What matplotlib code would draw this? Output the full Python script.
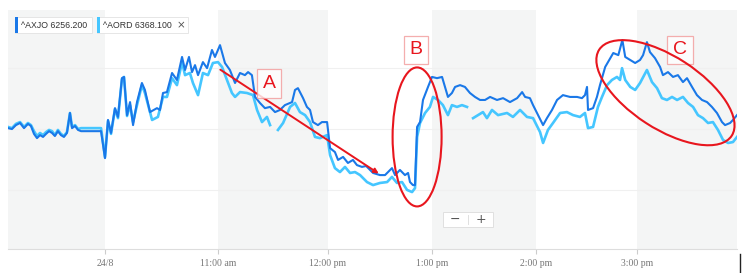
import numpy as np
import matplotlib
matplotlib.use("Agg")
import matplotlib.pyplot as plt
import matplotlib.patches as mpatches
import matplotlib.transforms as mtransforms
from matplotlib.lines import Line2D

# ------ Data ------#
# time in minutes after 10:00 (24/8 open), negative = previous session tail
axjo_t = [-51.5, -49.4, -47.3, -45.1, -43.0, -40.9, -39.3, -37.7, -36.1, -34.5,
          -32.9, -31.3, -29.7, -28.1, -26.6, -25.0, -23.4, -21.8, -20.2, -18.6,
          -17.5, -15.9, -14.3, -12.7, -11.7, -2.1,
          0.0, 1.6, 3.2, 5.3, 6.9, 9.0, 10.1, 11.7, 13.3, 14.9, 17.0, 19.6, 21.2,
          23.9, 27.6, 29.2, 30.8, 32.9, 35.6, 38.2, 40.9, 42.5, 44.6, 46.2, 47.8,
          49.4, 52.0, 54.2, 56.8, 58.4, 61.1, 63.8, 66.5, 69.3, 72.0, 74.7, 76.4,
          78.5, 80.2, 82.9, 85.6, 88.4, 91.1, 93.8, 96.5, 100.4, 102.0, 103.6,
          106.4, 108.5, 110.2, 111.8, 114.5, 116.7, 119.5, 121.2, 124.0, 125.8,
          128.7, 131.5, 134.4, 136.7, 139.6, 142.0, 146.0, 150.0, 152.9, 156.9,
          158.7, 161.5, 164.4, 166.2, 167.3, 169.0, 170.2, 171.4, 173.1, 174.8,
          177.7, 180.0, 182.9, 185.8, 187.5, 189.2, 191.5, 193.3, 196.2, 199.0,
          201.9, 204.8, 207.7, 210.6, 213.5, 217.5, 221.0, 225.0, 229.1, 232.0,
          233.7, 236.5, 238.3, 241.2, 244.2, 246.5, 249.5, 252.5, 256.0, 260.2,
          264.4, 267.3, 269.1, 270.3, 270.9, 273.9, 276.2, 278.0, 281.1, 284.1,
          285.9, 288.9, 291.3, 293.0, 296.0, 298.9, 301.8, 303.6, 305.9, 307.7,
          310.7, 313.7, 315.4, 318.4, 321.4, 324.3, 327.3, 329.7, 332.7, 335.6,
          338.6, 341.6, 344.5, 347.5, 350.5, 352.3, 355.3, 357.0, 359.4]
axjo_v = [6250.3, 6250.0, 6251.3, 6252.0, 6250.3, 6251.7, 6251.0, 6248.4, 6247.0, 6248.0,
          6247.4, 6248.4, 6249.3, 6248.7, 6247.7, 6249.3, 6248.0, 6247.4, 6248.7, 6255.3,
          6250.3, 6251.0, 6249.7, 6249.3, 6249.3, 6249.3,
          6240.4, 6253.0, 6248.7, 6256.9, 6254.0, 6266.8, 6267.2, 6254.6, 6258.9, 6251.3,
          6258.9, 6265.2, 6262.9, 6255.6, 6256.9, 6256.3, 6261.9, 6262.2, 6268.5, 6266.2,
          6273.8, 6269.5, 6273.8, 6268.8, 6271.1, 6267.8, 6272.1, 6270.1, 6276.1, 6273.8,
          6277.7, 6271.8, 6269.5, 6265.2, 6268.5, 6267.8, 6268.8, 6267.8, 6260.6, 6258.6,
          6256.9, 6257.3, 6255.6, 6256.3, 6257.9, 6258.9, 6262.9, 6263.5, 6260.2, 6257.3,
          6256.3, 6252.3, 6251.3, 6252.3, 6252.3, 6243.7, 6242.4, 6239.8, 6240.8, 6238.8,
          6239.8, 6238.1, 6237.5, 6237.8, 6235.5, 6234.8, 6234.8, 6237.1, 6234.8, 6236.5,
          6234.8, 6235.5, 6232.5, 6231.5, 6231.5, 6250.7, 6252.3, 6259.6, 6263.9, 6267.2,
          6266.8, 6267.2, 6263.9, 6260.6, 6261.9, 6263.9, 6264.5, 6263.9, 6261.9, 6260.6,
          6259.6, 6259.6, 6260.6, 6259.6, 6260.2, 6258.9, 6260.2, 6262.2, 6260.6, 6260.2,
          6257.9, 6254.6, 6251.3, 6253.6, 6256.3, 6259.6, 6261.2, 6260.6, 6260.6, 6260.2,
          6261.2, 6263.9, 6256.3, 6256.9, 6260.6, 6264.5, 6270.5, 6273.4, 6275.1, 6274.4,
          6279.4, 6273.8, 6272.8, 6271.8, 6272.8, 6274.4, 6278.7, 6275.4, 6273.4, 6270.5,
          6267.8, 6268.8, 6267.2, 6267.8, 6265.5, 6266.8, 6263.9, 6261.2, 6259.6, 6258.9,
          6257.3, 6255.3, 6252.3, 6251.3, 6252.0, 6253.0, 6254.6]

nan = np.nan
aord_t = [-51.5, -49.4, -47.3, -45.1, -43.0, -40.9, -39.3, -37.7, -36.1, -34.5,
          -32.9, -31.3, -29.7, -28.1, -26.6, -25.0, -23.4, -21.8, -20.2, -18.6,
          -17.5, -15.9, -14.3, -12.7, -11.7, -2.1,
          0.0, 1.6, 3.2, 5.3, 6.9, 9.0, 10.1, 11.7, 13.3, 14.9, 17.0, 19.6, 21.2,
          25.0, 28.1, 30.8, 32.9, 35.6, 38.2, 40.9, 42.5, 45.1, 46.7, 49.4, 52.0,
          54.7, 57.3, 60.0, 62.2, 64.9, 67.6, 69.3, 72.0, 75.8, 79.1, 81.3, 84.0,
          86.7, 88.4, 90.5, 92.7, 95.5, 99.3, 102.0, 104.7, 107.5, 110.2, 112.9,
          115.6, 119.5, 121.2, 124.0, 126.9, 129.8, 132.7, 135.6, 138.5, 142.5,
          146.0, 150.0, 154.1, 156.9, 159.8, 162.7, 165.6, 168.5, 170.2, 171.4,
          173.1, 176.0, 178.8, 180.6, 183.5, 186.3, 189.2, 191.5, 194.4, 197.3,
          200.2, 202.0, 203.7, 206.5, 209.4, 211.7, 214.6, 218.1, 223.3, 226.7,
          230.8, 234.8, 238.3, 242.4, 244.2, 247.1, 250.1, 254.3, 258.4, 262.0,
          266.1, 269.1, 270.9, 273.9, 276.8, 279.2, 282.2, 285.1, 288.1, 289.9,
          291.1, 293.0, 296.0, 298.9, 301.8, 305.9, 308.9, 311.9, 314.8, 317.8,
          320.8, 323.8, 327.3, 330.3, 333.3, 336.2, 339.2, 342.2, 345.1, 348.1,
          351.1, 354.1, 357.0, 359.4]
aord_v = [6250.7, 6250.3, 6251.7, 6252.3, 6250.7, 6252.0, 6251.3, 6249.3, 6247.7, 6248.7,
          6248.0, 6249.0, 6249.7, 6249.3, 6248.0, 6249.7, 6248.4, 6247.7, 6249.0, 6255.3,
          6250.7, 6251.3, 6250.0, 6250.3, 6250.3, 6250.3,
          6240.7, 6252.7, 6248.4, 6256.6, 6253.6, 6266.5, 6267.2, 6254.3, 6257.9, 6252.3,
          6257.9, 6264.5, 6261.9, 6253.0, 6254.0, 6260.6, 6260.6, 6266.8, 6264.5, 6272.1,
          6267.8, 6268.5, 6265.2, 6261.2, 6268.5, 6267.8, 6271.8, 6272.1, 6270.5, 6266.2,
          6261.9, 6260.6, 6262.2, 6261.9, 6261.2, 6256.3, 6252.3, 6254.0, 6251.3, nan,
          6249.7, 6252.0, 6257.3, 6258.6, 6255.6, 6254.6, 6252.3, 6247.4, 6247.0, 6248.0,
          6241.4, 6237.1, 6235.8, 6237.5, 6235.5, 6235.8, 6234.8, 6232.5, 6231.5, 6232.2,
          6232.5, 6234.2, 6232.2, 6232.5, 6229.9, 6229.2, 6230.5, 6247.4, 6252.0, 6255.3,
          6257.3, 6260.6, 6259.6, 6257.9, 6254.6, 6257.9, 6257.3, 6257.9, 6257.3, nan,
          6253.6, 6254.6, 6255.6, 6253.6, 6256.3, 6254.6, 6255.3, 6254.0, 6256.3, 6254.0,
          6253.6, 6249.0, 6245.4, 6249.7, 6252.0, 6255.3, 6255.6, 6254.6, 6254.0, 6255.3,
          6250.3, 6250.7, 6257.3, 6260.6, 6264.5, 6266.2, 6267.2, 6266.2, 6270.1, 6266.2,
          6263.9, 6262.9, 6265.2, 6269.5, 6265.5, 6263.5, 6260.2, 6259.6, 6260.6, 6259.6,
          6260.6, 6258.6, 6257.3, 6254.6, 6253.6, 6252.0, 6252.3, 6249.7, 6246.4, 6245.4,
          6245.7, 6247.4]

tick_min = [0, 60, 120, 180, 240, 300]
tick_labels = ['24/8', '11:00 am', '12:00 pm', '1:00 pm', '2:00 pm', '3:00 pm']
legend_labels = ['^AXJO 6256.200', '^AORD 6368.100']
#-------------------------------------#

c_axjo = '#1a78e8'
c_aord = '#45c6ff'
red = '#e8161e'
W, H = 754, 273

# the source chart spaces its hours unevenly, so map minutes piecewise
knot_min = np.array([-60, 0, 60, 120, 180, 240, 300, 360])
knot_px = np.array([-8, 105, 218, 328, 432, 536, 637, 738])
fwd = lambda m: np.interp(m, knot_min, knot_px)
inv = lambda p: np.interp(p, knot_px, knot_min)

def fx(x):
    return x / W

def fy(y):
    return 1 - y / H

fig = plt.figure(figsize=(W / 100, H / 100), dpi=100)
ax = fig.add_axes([fx(8), fy(249), (737 - 8) / W, (249 - 10) / H])
ax.set_xscale('function', functions=(fwd, inv))
ax.set_xlim(-51.5, 359.4)
ax.set_ylim(6210.4, 6289.3)

# alternating hour bands
band_edges = [-51.5, 0, 60, 120, 180, 240, 300, 359.4]
for i in range(len(band_edges) - 1):
    if i % 2 == 0:
        ax.axvspan(band_edges[i], band_edges[i + 1], color='#f4f5f5', lw=0, zorder=0)

ax.plot(axjo_t, axjo_v, color=c_axjo, lw=1.5, zorder=3)
ax.plot(aord_t, aord_v, color=c_aord, lw=1.9, zorder=2)

ax.set_yticks([6230, 6250, 6270])
ax.set_yticklabels([])
ax.tick_params(axis='y', length=0)
ax.grid(axis='y', color='#f0f0f0', lw=0.8)
ax.set_axisbelow(True)
ax.set_xticks(tick_min)
ax.set_xticks([], minor=True)
ax.set_xticklabels(tick_labels, fontsize=7, family='Liberation Serif', color='#777777')
ax.tick_params(axis='x', length=3.5, color='#cccccc', pad=4)
for s in ['top', 'left', 'right']:
    ax.spines[s].set_visible(False)
ax.spines['bottom'].set_color('#dddddd')

# annotations
ax.annotate('', xy=(150.6, 6234.8), xytext=(60.0, 6270.1),
            arrowprops=dict(arrowstyle='-|>', color=red, lw=1.4, mutation_scale=7),
            zorder=5)
box = dict(boxstyle='square,pad=0.3', fc='white', ec='#f29a9a', lw=0.9, alpha=0.8)
for lab, m, v in [('A', 87.8, 6265.0), ('B', 170.8, 6276.1), ('C', 325.5, 6276.1)]:
    ax.text(m, v, lab, color=red, fontsize=14, family='Liberation Sans',
            ha='center', va='center', bbox=box, zorder=6)

for (m, v), w, h, ang in [((171.4, 6247.4), 0.49, 1.39, 0),
                          ((316.9, 6262.0), 1.58, 0.72, -33)]:
    tr = fig.dpi_scale_trans + mtransforms.ScaledTranslation(m, v, ax.transData)
    ax.add_patch(mpatches.Ellipse((0, 0), w, h, angle=ang, transform=tr,
                                  fill=False, ec=red, lw=1.5, zorder=6))

# legend chips
for (x0, x1), col, lab in zip([(15, 92), (97, 188)], [c_axjo, c_aord], legend_labels):
    fig.add_artist(mpatches.Rectangle((fx(x0), fy(33)), (x1 - x0) / W, 16 / H,
                                      transform=fig.transFigure, fc='white',
                                      ec='#e2e2e2', lw=0.6))
    fig.add_artist(mpatches.Rectangle((fx(x0), fy(33)), 2.5 / W, 16 / H,
                                      transform=fig.transFigure, fc=col, lw=0))
    fig.text(fx(x0 + 6), fy(25), lab, fontsize=6.3, family='Liberation Sans',
             color='#333333', va='center')
fig.text(fx(181), fy(25), '\u00d7', fontsize=7.5, color='#555555', ha='center', va='center')

# zoom buttons
fig.add_artist(mpatches.FancyBboxPatch((fx(443), fy(227)), 50 / W, 15 / H,
                                       boxstyle='square,pad=0', transform=fig.transFigure,
                                       fc='white', ec='#e0e0e0', lw=0.7))
fig.text(fx(455), fy(219.5), '\u2212', fontsize=9, color='#555555', ha='center', va='center')
fig.text(fx(481), fy(219.5), '+', fontsize=9, color='#555555', ha='center', va='center')
fig.add_artist(Line2D([fx(468), fx(468)], [fy(215), fy(224)], color='#e0e0e0', lw=0.7))

fig.add_artist(Line2D([fx(740), fx(740)], [fy(254), fy(273)], color='#222222', lw=1))

fig.savefig('out.png', dpi=100)
